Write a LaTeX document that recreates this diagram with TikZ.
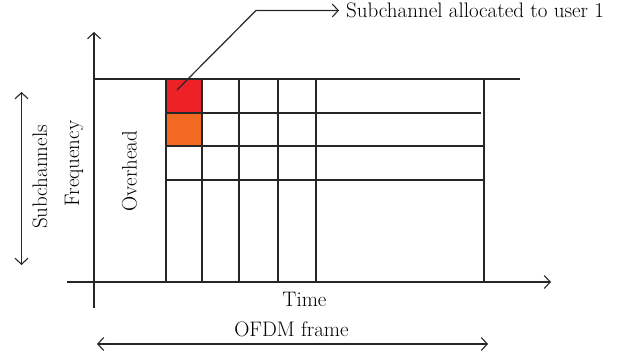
\documentclass[tikz,border=0pt]{standalone}
\usetikzlibrary{arrows.meta}
\definecolor{userred}{HTML}{EE2226}
\definecolor{userorange}{HTML}{F26A22}
\tikzset{
  line/.style={draw=black!85, line width=1.2pt},
  tip/.style={-{Straight Barb[length=6pt,width=13pt,line width=1.1pt]}},
  tips/.style={{Straight Barb[length=6pt,width=13pt,line width=1.1pt]}-{Straight Barb[length=6pt,width=13pt,line width=1.1pt]}},
  lbl/.style={font=\fontsize{21}{24}\selectfont, inner sep=0pt, anchor=base},
}
\begin{document}
\begin{tikzpicture}[x=1pt,y=-1pt]
\useasboundingbox (0,0) rectangle (619,358);
% allocated cells
\fill[userred] (166,79) rectangle (202,112.5);
\fill[userorange] (166,113) rectangle (202,146);
% frame grid
\draw[line] (94,79) -- (520,79);
\foreach \y/\xe in {113/481,146/484,180/484} \draw[line] (166,\y) -- (\xe,\y);
\foreach \x in {166,202,239,278,316,484} \draw[line] (\x,79) -- (\x,282);
% axes
\coordinate (yfoot) at (94,308);
\coordinate (yhead) at (94,32);
\coordinate (xfoot) at (67,282);
\coordinate (xhead) at (551,282);
\draw[line,tip] (yfoot) -- (yhead);
\draw[line,tip] (xfoot) -- (xhead);
% labels
\node[lbl] (time) at (304.5,307) {Time};
\node[lbl, rotate=90] (freq) at (79,163.5) {Frequency};
\node[lbl, rotate=90] (over) at (136.5,171) {Overhead};
\node[lbl, rotate=90] (subc) at (47,177) {Subchannels};
\node[lbl] (ofdm) at (291.5,337) {OFDM frame};
\node[lbl, anchor=base west] (user) at (346,17.5) {Subchannel allocated to user 1};
% dimension arrows
\coordinate (subtop) at (21.5,92);
\coordinate (subbot) at (21.5,265);
\draw[line,tips] (subtop) -- (subbot);
\coordinate (frl) at (97,344);
\coordinate (frr) at (488,344);
\draw[line,tips] (frl) -- (frr);
% leader to the allocated subchannel
\coordinate (cell) at (177,90);
\coordinate (bend) at (256,10.5);
\draw[line,tip] (cell) -- (bend) -- ([xshift=-7pt]user.west |- bend);
\end{tikzpicture}
\end{document}
